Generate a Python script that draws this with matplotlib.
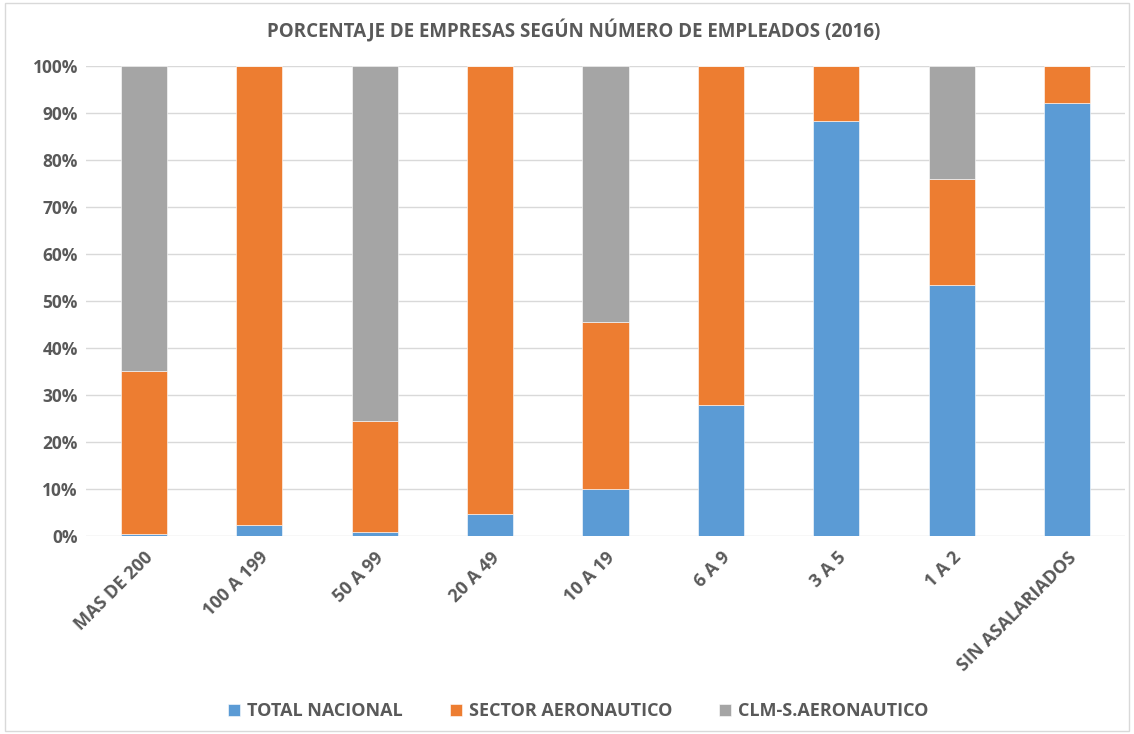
import matplotlib
matplotlib.use("Agg")
import matplotlib.pyplot as plt
from matplotlib.patches import Rectangle
import numpy as np

categories = ["MAS DE 200", "100 A 199", "50 A 99", "20 A 49", "10 A 19", "6 A 9", "3 A 5", "1 A 2", "SIN ASALARIADOS"]
total_nacional = [0.4, 2.4, 0.9, 4.6, 10.0, 27.9, 88.2, 53.3, 92.2]
sector_aeronautico = [34.6, 97.6, 23.6, 95.4, 35.5, 72.1, 11.8, 22.6, 7.8]
clm_aeronautico = [65.0, 0.0, 75.5, 0.0, 54.5, 0.0, 0.0, 24.1, 0.0]
series_names = ["TOTAL NACIONAL", "SECTOR AERONAUTICO", "CLM-S.AERONAUTICO"]
colors = ["#5B9BD5", "#ED7D31", "#A5A5A5"]
yticks = [0, 10, 20, 30, 40, 50, 60, 70, 80, 90, 100]

plt.rcParams['font.family'] = ['Open Sans', 'DejaVu Sans']
txt = "#595959"

fig = plt.figure(figsize=(11.34, 7.34), dpi=100)
ax = fig.add_axes([0.076, 0.2698, 0.916, 0.6403])

x = np.arange(len(categories))
bottom = np.zeros(len(categories))
for vals, name, c in zip([total_nacional, sector_aeronautico, clm_aeronautico], series_names, colors):
    v = np.array(vals) / 100.0
    ax.bar(x, v, 0.4, bottom=bottom, color=c, label=name, edgecolor="white", linewidth=0.4, zorder=3)
    bottom += v

ax.set_ylim(0, 1)
ax.set_xlim(-0.5, len(categories) - 0.5)
ax.set_yticks([t / 100 for t in yticks])
ax.set_yticklabels([f"{t}%" for t in yticks], fontsize=12.5, fontweight='bold', color=txt)
ax.set_xticks(x)
ax.set_xticklabels(categories, rotation=45, ha='right', rotation_mode='anchor',
                   fontsize=13, fontweight='bold', color=txt)
ax.tick_params(axis='both', length=0, pad=6)
ax.tick_params(axis='x', pad=9)
ax.grid(axis='y', color='#D9D9D9', linewidth=1, zorder=0)
for s in ax.spines.values():
    s.set_visible(False)

fig.suptitle("PORCENTAJE DE EMPRESAS SEGÚN NÚMERO DE EMPLEADOS (2016)", x=0.506, y=0.974,
             fontsize=13.5, fontweight='bold', color=txt)

fig.legend(loc='center', bbox_to_anchor=(0.51, 0.031), ncol=3, frameon=False,
           prop={'size': 13, 'weight': 'bold'}, labelcolor=txt, handlelength=0.65,
           handleheight=0.65, columnspacing=2.6, handletextpad=0.4)

fig.patches.append(Rectangle((0.004, 0.004), 0.992, 0.992, transform=fig.transFigure,
                             fill=False, edgecolor='#D9D9D9', linewidth=1))

fig.savefig("out.png", dpi=100)
